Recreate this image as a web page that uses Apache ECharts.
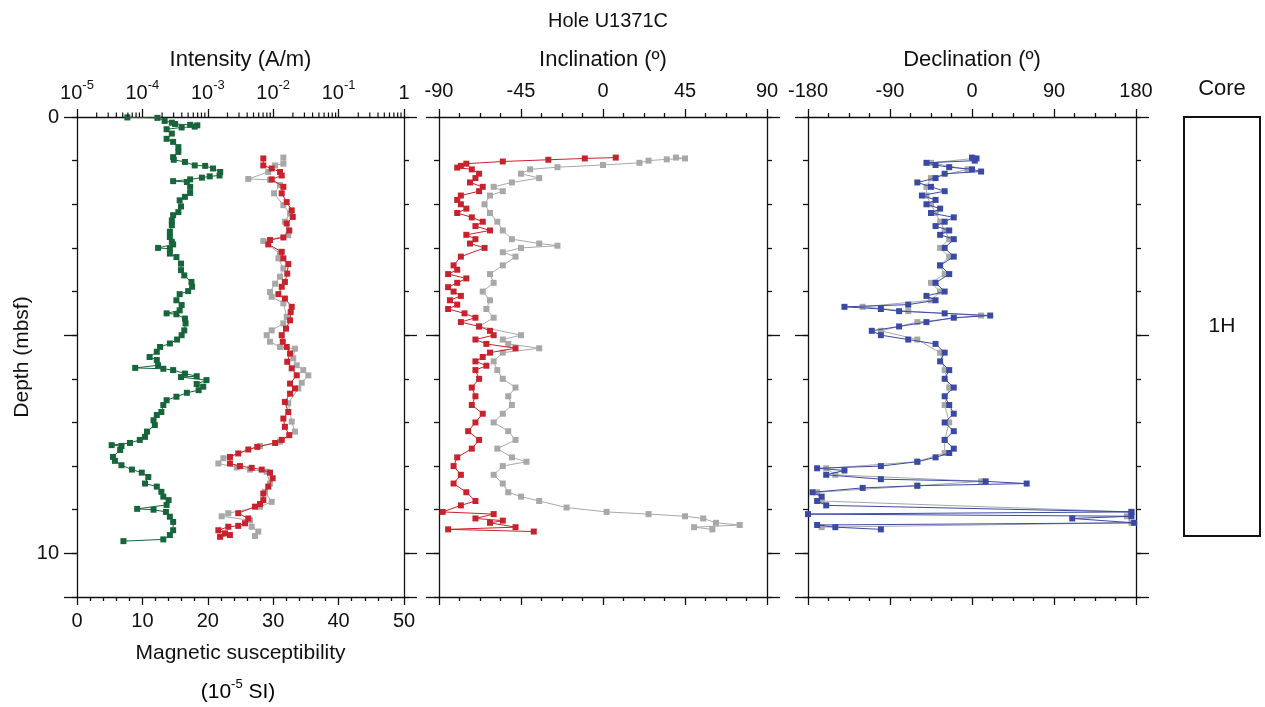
<!DOCTYPE html>
<html><head><meta charset="utf-8">
<script src="https://cdn.jsdelivr.net/npm/echarts@6/dist/echarts.min.js"></script>
<style>html,body{margin:0;padding:0;background:#fff}#c{width:1265px;height:707px}</style>
</head><body><div id="c"></div>
<script>
// ---------- DATA ----------
const suscDepth = [0.01,0.02,0.09,0.13,0.16,0.18,0.19,0.22,0.24,0.28,0.38,0.50,0.57,0.69,0.80,0.92,0.98,1.03,1.11,1.12,1.18,1.26,1.34,1.36,1.39,1.43,1.47,1.49,1.60,1.74,1.83,1.91,2.05,2.18,2.25,2.37,2.48,2.63,2.75,2.86,2.92,3.00,3.02,3.13,3.21,3.36,3.51,3.63,3.78,3.89,3.99,4.06,4.20,4.31,4.43,4.50,4.52,4.62,4.73,4.89,5.00,5.10,5.19,5.27,5.38,5.50,5.57,5.69,5.75,5.77,5.80,5.88,5.94,5.96,6.03,6.12,6.18,6.26,6.32,6.41,6.49,6.60,6.76,6.83,6.95,7.06,7.21,7.33,7.40,7.47,7.52,7.54,7.63,7.79,7.88,7.98,8.08,8.15,8.25,8.40,8.47,8.59,8.70,8.78,8.89,8.98,9.00,9.05,9.16,9.28,9.47,9.58,9.68,9.72];
const suscValue = [7.7,12.3,13.4,14.5,15.0,17.3,18.4,18.0,16.0,13.7,14.5,13.7,14.7,15.5,15.5,14.7,14.8,16.5,18.0,19.6,20.8,21.9,21.8,20.3,19.1,17.3,14.7,16.8,17.3,17.3,16.5,15.7,15.9,15.5,14.7,14.5,14.5,14.2,14.2,14.5,14.7,12.4,14.2,14.2,15.2,15.9,15.9,16.4,17.5,17.6,17.0,15.7,15.2,16.0,15.7,13.7,15.2,16.5,16.6,16.4,16.0,15.3,14.2,12.7,12.2,11.1,12.2,12.4,8.9,13.2,14.7,16.5,18.3,15.9,19.8,18.3,19.3,18.6,16.8,15.2,13.7,13.2,12.9,12.2,11.7,11.9,10.7,10.4,9.6,8.1,5.3,6.8,6.6,5.5,5.8,6.8,8.4,9.9,10.9,10.4,12.2,12.9,13.2,14.0,13.7,9.2,11.7,13.6,14.2,14.7,14.7,14.2,13.2,7.1];

const intNrmDepth = [0.93,1.07,1.11,1.26,1.42,1.44,1.56,1.75,2.02,2.21,2.40,2.71,2.84,3.13,3.24,3.47,3.66,3.82,4.01,4.12,4.27,4.58,4.73,4.89,5.00,5.15,5.27,5.31,5.53,5.69,5.80,5.92,6.09,6.22,6.56,6.98,7.21,7.44,7.54,7.82,7.94,8.03,8.08,8.13,8.40,8.59,8.82,8.93,9.08,9.15,9.24,9.39,9.50,9.60];
const intNrmValue = [1.43e-2,1.43e-2,1.07e-2,8.41e-3,4.16e-3,8.93e-3,1.27e-2,1.03e-2,1.43e-2,1.81e-2,1.51e-2,1.70e-2,7.06e-3,1.27e-2,1.20e-2,1.43e-2,1.27e-2,1.07e-2,8.93e-3,9.48e-3,1.43e-2,1.61e-2,1.43e-2,9.48e-3,7.96e-3,8.93e-3,1.27e-2,2.15e-2,2.03e-2,2.29e-2,2.88e-2,3.44e-2,2.73e-2,2.42e-2,1.70e-2,1.92e-2,2.15e-2,1.27e-2,6.28e-3,1.73e-3,1.45e-3,2.77e-3,4.42e-3,7.96e-3,8.93e-3,7.50e-3,9.48e-3,6.28e-3,2.06e-3,1.63e-3,4.42e-3,4.69e-3,5.92e-3,5.27e-3];

const intDemagDepth = [0.95,1.11,1.18,1.26,1.34,1.43,1.60,1.75,1.95,2.14,2.29,2.44,2.60,2.76,2.82,2.92,3.09,3.24,3.37,3.59,3.78,3.89,4.06,4.16,4.35,4.47,4.66,4.85,5.00,5.15,5.27,5.42,5.61,5.76,5.92,6.11,6.22,6.34,6.53,6.76,6.91,7.10,7.29,7.40,7.47,7.56,7.62,7.71,7.79,7.94,8.00,8.04,8.08,8.15,8.28,8.47,8.63,8.78,8.87,8.93,9.08,9.20,9.31,9.37,9.39,9.47,9.54,9.58,9.62];
const intDemagValue = [7.06e-3,7.06e-3,9.48e-3,1.27e-2,1.35e-2,9.48e-3,1.43e-2,1.35e-2,1.61e-2,1.92e-2,1.99e-2,1.61e-2,1.76e-2,1.43e-2,8.93e-3,8.41e-3,1.35e-2,1.43e-2,1.70e-2,1.64e-2,1.51e-2,1.35e-2,1.20e-2,1.51e-2,1.92e-2,1.85e-2,1.81e-2,1.57e-2,1.35e-2,1.40e-2,1.61e-2,1.81e-2,1.64e-2,1.92e-2,2.29e-2,1.81e-2,2.15e-2,1.81e-2,1.51e-2,1.70e-2,1.43e-2,1.51e-2,1.76e-2,1.35e-2,1.07e-2,5.71e-3,4.16e-3,2.92e-3,2.18e-3,2.18e-3,3.10e-3,4.69e-3,6.67e-3,8.93e-3,9.82e-3,8.41e-3,7.06e-3,7.06e-3,6.28e-3,5.27e-3,2.92e-3,4.16e-3,3.71e-3,2.92e-3,2.06e-3,1.45e-3,1.83e-3,2.18e-3,1.54e-3];

const incNrmDepth = [0.93,0.95,0.97,1.00,1.05,1.10,1.15,1.20,1.30,1.40,1.50,1.60,1.70,1.80,2.00,2.20,2.40,2.60,2.80,2.90,2.95,3.00,3.10,3.20,3.40,3.60,3.80,4.00,4.20,4.40,4.60,4.80,5.00,5.10,5.20,5.30,5.40,5.60,5.80,6.00,6.20,6.40,6.60,6.80,7.00,7.20,7.40,7.60,7.80,7.90,8.00,8.20,8.40,8.60,8.70,8.80,8.95,9.05,9.10,9.15,9.20,9.30,9.35,9.40,9.45];
const incNrm = [40,45,35,25,20,0,-25,-40,-45,-35,-50,-60,-55,-62,-65,-62,-58,-55,-50,-35,-25,-45,-55,-48,-55,-62,-60,-66,-62,-64,-60,-68,-45,-55,-52,-35,-55,-60,-58,-55,-48,-52,-50,-55,-60,-52,-48,-58,-50,-42,-55,-60,-55,-52,-45,-35,-20,2,25,45,55,62,75,50,60];

const incDemagDepth = [0.93,0.95,0.98,1.02,1.07,1.12,1.16,1.20,1.30,1.40,1.50,1.60,1.70,1.80,1.90,2.00,2.10,2.20,2.30,2.40,2.50,2.60,2.70,2.80,2.90,3.00,3.20,3.40,3.50,3.60,3.70,3.80,3.90,4.00,4.10,4.20,4.30,4.40,4.50,4.60,4.70,4.80,4.90,5.00,5.10,5.20,5.30,5.40,5.50,5.60,5.70,5.80,6.00,6.20,6.40,6.60,6.80,7.00,7.20,7.40,7.60,7.80,8.00,8.20,8.40,8.60,8.80,8.90,9.05,9.10,9.20,9.25,9.30,9.40,9.45,9.50];
const incDemag = [7,-10,-30,-55,-75,-78,-80,-72,-68,-70,-73,-66,-68,-78,-80,-78,-75,-80,-72,-66,-70,-62,-75,-70,-73,-65,-78,-82,-80,-85,-75,-80,-85,-82,-78,-84,-80,-85,-76,-70,-78,-68,-62,-60,-70,-64,-48,-62,-66,-70,-64,-70,-68,-72,-70,-72,-66,-70,-74,-68,-72,-80,-82,-78,-82,-75,-70,-78,-88,-60,-70,-55,-62,-48,-85,-38];

const decNrmDepth = [0.95,1.05,1.20,1.40,1.60,1.80,2.00,2.20,2.40,2.60,2.80,3.00,3.20,3.40,3.60,3.80,4.00,4.20,4.35,4.45,4.55,4.70,4.90,5.10,5.40,5.80,6.20,6.60,7.00,7.40,7.70,7.90,8.05,8.20,8.35,8.45,8.60,8.80,9.05,9.15,9.30,9.40];
const decNrm = [2,-45,-5,-45,-50,-50,-45,-40,-35,-30,-25,-35,-25,-35,-30,-45,-35,-45,-120,-70,10,-60,-100,-60,-35,-30,-25,-30,-25,-30,-30,-60,-160,-150,10,-60,-170,-165,175,170,175,-165];

const decDemagDepth = [0.93,0.95,1.00,1.05,1.10,1.15,1.20,1.25,1.30,1.40,1.50,1.60,1.70,1.80,1.90,2.00,2.10,2.20,2.30,2.40,2.50,2.60,2.70,2.80,3.00,3.20,3.40,3.60,3.80,4.00,4.10,4.20,4.30,4.35,4.40,4.45,4.50,4.55,4.60,4.70,4.80,4.90,5.00,5.10,5.20,5.40,5.60,5.80,6.00,6.20,6.40,6.60,6.80,7.00,7.20,7.40,7.60,7.70,7.80,7.90,8.00,8.05,8.10,8.20,8.30,8.35,8.40,8.45,8.50,8.60,8.70,8.80,8.90,9.05,9.10,9.15,9.20,9.30,9.35,9.40,9.45];
const decDemag = [0,5,3,-50,-40,-25,0,10,-30,-40,-60,-45,-30,-55,-40,-50,-35,-45,-20,-30,-40,-25,-35,-20,-30,-20,-35,-25,-40,-30,-50,-40,-70,-140,-100,-80,-30,20,-20,-50,-80,-110,-100,-70,-40,-30,-35,-25,-30,-20,-30,-25,-20,-30,-20,-30,-20,-25,-40,-60,-100,-170,-140,-160,-100,15,60,-60,-120,-175,-165,-170,-160,175,-180,175,110,178,-170,-150,-100];

const logTickMinor = [2e-5,3e-5,4e-5,5e-5,6e-5,7e-5,8e-5,9e-5,2e-4,3e-4,4e-4,5e-4,6e-4,7e-4,8e-4,9e-4,2e-3,3e-3,4e-3,5e-3,6e-3,7e-3,8e-3,9e-3,2e-2,3e-2,4e-2,5e-2,6e-2,7e-2,8e-2,9e-2,2e-1,3e-1,4e-1,5e-1,6e-1,7e-1,8e-1,9e-1];
const coreNames = ['1H'];
const coreTop = [0];
const coreBottom = [9.6];

// ---------- HELPERS ----------
const zip = (d, v) => d.map((dd, i) => [v[i], dd]);
const FONT = "'Liberation Sans', Arial, Helvetica, sans-serif";
const BLACK = '#111';
const lineStyle = {color: BLACK, width: 1.3};
const labelStyle = {color: '#111', fontSize: 20, fontFamily: FONT};
const nameStyle = {color: '#111', fontSize: 22, fontFamily: FONT};

const GREEN = '#17653a', RED = '#c8222c', GRAY = '#a8a8a8', BLUE = '#3a4aa4';

function depthAxes(gi, showLabel) {
  const base = {type: 'value', gridIndex: gi, min: 0, max: 11, inverse: true, splitLine: {show: false}};
  return [
    Object.assign({}, base, {position: 'left', interval: 5,
      axisLine: {show: true, onZero: false, lineStyle},
      axisTick: {show: true, length: 13, lineStyle},
      axisLabel: Object.assign({show: showLabel, margin: 18, formatter: v => (v === 0 || v === 10) ? String(v) : ''}, labelStyle),
      name: showLabel ? 'Depth (mbsf)' : '', nameLocation: 'middle', nameRotate: 90, nameGap: 40,
      nameTextStyle: Object.assign({}, nameStyle)}),
    Object.assign({}, base, {position: 'right', interval: 5,
      axisLine: {show: true, onZero: false, lineStyle},
      axisTick: {show: true, length: 13, lineStyle}, axisLabel: {show: false}}),
    Object.assign({}, base, {position: 'left', interval: 1,
      axisLine: {show: false, onZero: false}, axisTick: {show: true, length: 5, lineStyle}, axisLabel: {show: false}}),
    Object.assign({}, base, {position: 'right', interval: 1,
      axisLine: {show: false, onZero: false}, axisTick: {show: true, length: 5, lineStyle}, axisLabel: {show: false}})
  ];
}

function linAxis(gi, pos, min, max, interval, split, showLabel, name) {
  return {type: 'value', gridIndex: gi, position: pos, min, max, interval,
    splitLine: {show: false},
    axisLine: {show: true, onZero: false, lineStyle},
    axisTick: {show: true, length: 8, lineStyle},
    minorTick: {show: true, splitNumber: split, length: 4, lineStyle},
    axisLabel: Object.assign({show: showLabel, margin: pos === 'top' ? 16 : 14}, labelStyle),
    name: name || '', nameLocation: 'middle', nameGap: 46,
    nameTextStyle: Object.assign({}, nameStyle)};
}

const supRich = {
  b: {fontSize: 20, fontFamily: FONT, color: '#111', lineHeight: 24, verticalAlign: 'bottom'},
  s: {fontSize: 13, fontFamily: FONT, color: '#111', lineHeight: 13, verticalAlign: 'top'}
};
const supRich2 = {
  b: {fontSize: 21, fontFamily: FONT, color: '#111', lineHeight: 25, verticalAlign: 'bottom'},
  s: {fontSize: 13, fontFamily: FONT, color: '#111', lineHeight: 13, verticalAlign: 'top'}
};

const xAxes = [
  linAxis(0, 'bottom', 0, 50, 10, 5, true, 'Magnetic susceptibility'),
  {type: 'log', logBase: 10, gridIndex: 0, position: 'top', min: 1e-5, max: 1,
    splitLine: {show: false},
    axisLine: {show: true, onZero: false, lineStyle},
    axisTick: {show: true, length: 8, lineStyle},
    axisLabel: {show: true, margin: 14, formatter: v => {
      const e = Math.round(Math.log10(v));
      return e === 0 ? '{b|1}' : '{b|10}{s|' + e + '}';
    }, rich: supRich},
    name: 'Intensity (A/m)', nameLocation: 'middle', nameGap: 46, nameTextStyle: Object.assign({}, nameStyle)},
  linAxis(1, 'top', -90, 90, 45, 4, true, 'Inclination (º)'),
  linAxis(1, 'bottom', -90, 90, 45, 4, false),
  linAxis(2, 'top', -180, 180, 90, 4, true, 'Declination (º)'),
  linAxis(2, 'bottom', -180, 180, 90, 4, false),
  {type: 'value', gridIndex: 3, position: 'top', min: 0, max: 1,
    axisLine: {show: false, onZero: false}, axisTick: {show: false}, axisLabel: {show: false}, splitLine: {show: false},
    name: 'Core', nameLocation: 'middle', nameGap: 17, nameTextStyle: Object.assign({}, nameStyle)}
];
xAxes[0].nameTextStyle.fontSize = 21;

const yAxes = [].concat(depthAxes(0, true), depthAxes(1, false), depthAxes(2, false), [
  {type: 'value', gridIndex: 3, min: 0, max: 11, inverse: true, show: false}
]);
yAxes[0].nameTextStyle.fontSize = 21;

function lineSeries(name, data, xi, yi, color, z) {
  return {name, type: 'line', xAxisIndex: xi, yAxisIndex: yi, data,
    symbol: 'rect', symbolSize: 6, showSymbol: true,
    itemStyle: {color}, lineStyle: {color, width: 1}, z, animation: false};
}

const series = [
  lineSeries('Susceptibility', zip(suscDepth, suscValue), 0, 0, GREEN, 3),
  lineSeries('Intensity NRM', zip(intNrmDepth, intNrmValue), 1, 0, GRAY, 2),
  lineSeries('Intensity demag', zip(intDemagDepth, intDemagValue), 1, 0, RED, 3),
  lineSeries('Inclination NRM', zip(incNrmDepth, incNrm), 2, 4, GRAY, 2),
  lineSeries('Inclination demag', zip(incDemagDepth, incDemag), 2, 4, RED, 3),
  lineSeries('Declination NRM', zip(decNrmDepth, decNrm), 4, 8, GRAY, 2),
  lineSeries('Declination demag', zip(decDemagDepth, decDemag), 4, 8, BLUE, 3),
  {type: 'custom', xAxisIndex: 1, yAxisIndex: 0, clip: false, silent: true, z: 5,
    data: logTickMinor.map(v => [v, 0]),
    renderItem: (params, api) => {
      const p = api.coord([api.value(0), api.value(1)]);
      return {type: 'line', shape: {x1: p[0], y1: p[1], x2: p[0], y2: p[1] - 4.5},
        style: {stroke: BLACK, lineWidth: 1.2}};
    }},
  {type: 'custom', xAxisIndex: 6, yAxisIndex: 12, clip: false, silent: true,
    data: coreNames.map((n, i) => [coreTop[i], coreBottom[i], n]),
    renderItem: (params, api) => {
      const p0 = api.coord([0, api.value(0)]);
      const p1 = api.coord([1, api.value(1)]);
      return {type: 'rect', shape: {x: p0[0], y: p0[1], width: p1[0] - p0[0], height: p1[1] - p0[1]},
        style: {fill: '#fff', stroke: BLACK, lineWidth: 2},
        textContent: {style: {text: String(api.value(2)), fill: '#111', fontSize: 21, fontFamily: FONT}},
        textConfig: {position: 'inside'}};
    }}
];

const option = {
  backgroundColor: '#fff',
  animation: false,
  title: {text: 'Hole U1371C', left: 603, top: 6, textAlign: 'center',
    textStyle: {fontSize: 20, fontWeight: 'normal', color: '#111', fontFamily: FONT}},
  grid: [
    {left: 77, top: 117, width: 327, height: 480},
    {left: 439, top: 117, width: 328, height: 480},
    {left: 808, top: 117, width: 328, height: 480},
    {left: 1184, top: 117, width: 76, height: 480}
  ],
  xAxis: xAxes,
  yAxis: yAxes,
  series,
  graphic: [
    {type: 'text', x: 238, y: 690,
      style: {text: '{b|(10}{s|-5}{b| SI)}', rich: supRich2, align: 'center', verticalAlign: 'middle'}}
  ]
};

const chart = echarts.init(document.getElementById('c'), null, {renderer: 'canvas'});
chart.setOption(option);
</script>
</body></html>
